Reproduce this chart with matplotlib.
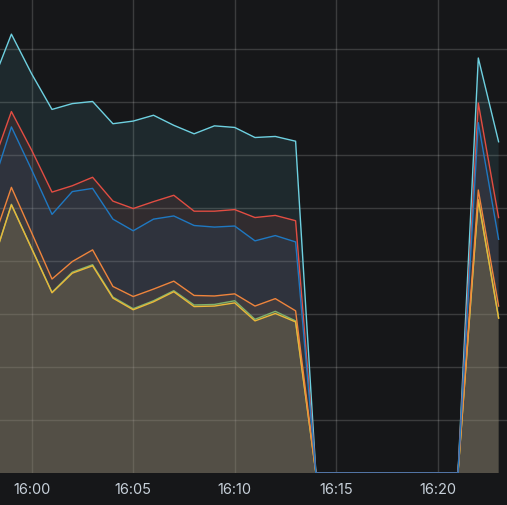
import matplotlib
matplotlib.use("Agg")
import matplotlib.pyplot as plt

# ---- data ----
times = ["15:58", "15:59", "16:00", "16:01", "16:02", "16:03", "16:04", "16:05",
         "16:06", "16:07", "16:08", "16:09", "16:10", "16:11", "16:12", "16:13",
         "16:14", "16:15", "16:16", "16:17", "16:18", "16:19", "16:20", "16:21",
         "16:22", "16:23"]

z = [0.0] * 8
cyan = [7.30, 8.28, 7.53, 6.86, 6.97, 7.01, 6.59, 6.64, 6.75, 6.56, 6.40, 6.55,
        6.52, 6.33, 6.35, 6.26] + z + [7.83, 6.25]
red = [5.74, 6.82, 6.09, 5.30, 5.42, 5.58, 5.13, 4.99, 5.12, 5.24, 4.94, 4.94,
       4.97, 4.82, 4.86, 4.76] + z + [6.98, 4.82]
blue = [5.33, 6.53, 5.72, 4.88, 5.31, 5.37, 4.79, 4.57, 4.79, 4.85, 4.67, 4.64,
        4.66, 4.38, 4.48, 4.36] + z + [6.61, 4.41]
orange = [4.27, 5.39, 4.53, 3.66, 3.99, 4.21, 3.52, 3.33, 3.47, 3.62, 3.35, 3.34,
          3.38, 3.15, 3.29, 3.06] + z + [5.34, 3.15]
yellow = [3.86, 5.06, 4.23, 3.40, 3.77, 3.91, 3.30, 3.08, 3.23, 3.42, 3.14, 3.15,
          3.21, 2.87, 3.01, 2.85] + z + [5.15, 2.92]
green = [3.87, 5.07, 4.24, 3.41, 3.79, 3.93, 3.32, 3.10, 3.25, 3.44, 3.17, 3.18,
         3.25, 2.90, 3.05, 2.87] + z + [5.16, 2.93]

tick_labels = ["16:00", "16:05", "16:10", "16:15", "16:20"]


def to_min(s):
    h, m = s.split(":")
    return (int(h) - 16) * 60 + int(m)


x = [to_min(t) for t in times]
tick_pos = [to_min(t) for t in tick_labels]

series = [
    (green, "#7EB26D"),
    (yellow, "#EAB839"),
    (orange, "#EF843C"),
    (cyan, "#6ED0E0"),
    (red, "#E24D42"),
    (blue, "#1F78C1"),
]

plt.rcParams["font.family"] = ["Inter", "DejaVu Sans"]
bg = "#161719"
fig = plt.figure(figsize=(5.07, 5.05), dpi=100, facecolor=bg)
ax = fig.add_axes([0, 32 / 505, 1, 473 / 505])
ax.set_facecolor(bg)

for vals, col in series:
    ax.fill_between(x, 0, vals, color=col, alpha=0.1, linewidth=0, zorder=2)
for vals, col in series:
    ax.plot(x, vals, color=col, lw=1.0, zorder=3)

ax.set_xlim(-31.7 / 20.3, (507 - 31.7) / 20.3)
ax.set_ylim(0, 473 / 53)
ax.set_xticks(tick_pos)
ax.set_xticklabels(tick_labels)
ax.set_yticks(range(1, 9))
ax.tick_params(axis="x", length=0, pad=7.5, labelsize=10.5, colors="#c7d0d9")
ax.tick_params(axis="y", length=0, labelleft=False)
ax.grid(True, color="white", alpha=0.16, lw=1.0, zorder=4)
for s in ax.spines.values():
    s.set_visible(False)

fig.savefig("out.png", dpi=100, facecolor=bg)
